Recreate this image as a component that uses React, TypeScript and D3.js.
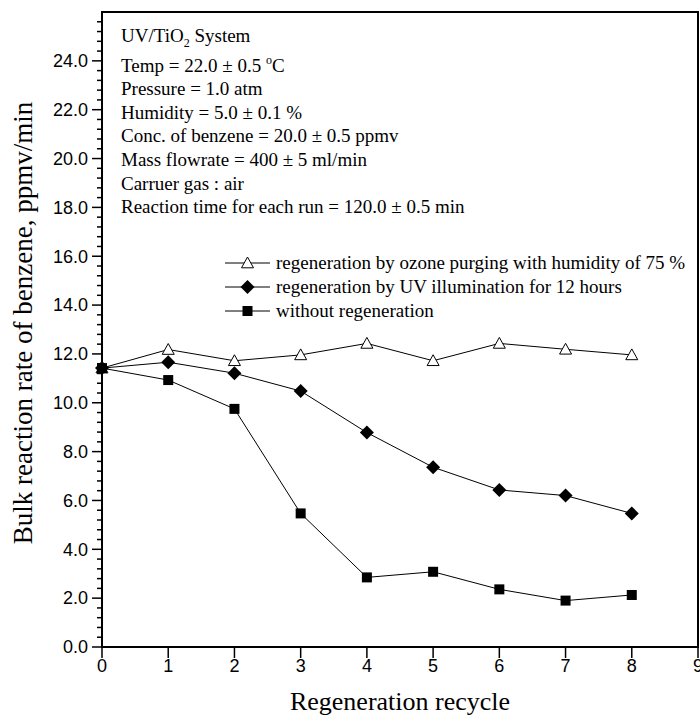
import React from "react";
import * as d3 from "d3";

const cycles = [0, 1, 2, 3, 4, 5, 6, 7, 8];
const ozoneSeries = [11.42, 12.18, 11.72, 11.96, 12.43, 11.72, 12.43, 12.19, 11.96];
const uvSeries = [11.42, 11.66, 11.21, 10.48, 8.78, 7.36, 6.43, 6.2, 5.47];
const noRegenSeries = [11.42, 10.93, 9.75, 5.47, 2.85, 3.08, 2.36, 1.9, 2.13];

const xTicks = [0, 1, 2, 3, 4, 5, 6, 7, 8, 9];
const yMajorTicks = [0, 2, 4, 6, 8, 10, 12, 14, 16, 18, 20, 22, 24];

const legendLabels = [
  "regeneration by ozone purging with humidity of 75 %",
  "regeneration by UV illumination for 12 hours",
  "without regeneration",
];

const annoLines = [
  "Pressure = 1.0 atm",
  "Humidity = 5.0 \u00b1 0.1 %",
  "Conc. of benzene = 20.0 \u00b1 0.5 ppmv",
  "Mass flowrate = 400 \u00b1 5 ml/min",
  "Carruer gas : air",
  "Reaction time for each run = 120.0 \u00b1 0.5 min",
];

const W = 700;
const H = 717;
const left = 102;
const right = 698;
const top = 12;
const bottom = 647;

const serif = "'Liberation Serif', 'Times New Roman', serif";
const sans = "'Liberation Sans', Arial, sans-serif";

function Marker({ kind, x, y }: { kind: string; x: number; y: number }) {
  if (kind === "tri") {
    return (
      <path
        d={`M${x},${y - 6}L${x + 6},${y + 4.8}L${x - 6},${y + 4.8}Z`}
        fill="white"
        stroke="black"
        strokeWidth={1}
      />
    );
  }
  if (kind === "dia") {
    return (
      <path
        d={`M${x},${y - 7}L${x + 7},${y}L${x},${y + 7}L${x - 7},${y}Z`}
        fill="black"
      />
    );
  }
  return <rect x={x - 5} y={y - 5} width={10} height={10} fill="black" />;
}

export default function App() {
  const xs = d3.scaleLinear().domain([0, 9]).range([left, right]);
  const ys = d3.scaleLinear().domain([0, 26]).range([bottom, top]);
  const line = d3
    .line<number>()
    .x((_, i) => xs(cycles[i]))
    .y((d) => ys(d));

  const minor = d3
    .range(0, 66)
    .filter((i) => i % 5 !== 0)
    .map((i) => i * 0.4);

  const series = [
    { kind: "tri", data: ozoneSeries },
    { kind: "dia", data: uvSeries },
    { kind: "sq", data: noRegenSeries },
  ];

  const annoX = 121;
  const annoY0 = 42;
  const tempY = 71.5;
  const annoDy = 23.6;

  const legendY = [263, 287, 311];

  return (
    <svg
      width={W}
      height={H}
      style={{ position: "absolute", left: 0, top: 0, background: "white" }}
    >
      <rect x={0} y={0} width={W} height={H} fill="white" />
      {minor.map((v) => (
        <line key={"m" + v} x1={left - 5} x2={left} y1={ys(v)} y2={ys(v)} stroke="black" strokeWidth={1.5} />
      ))}
      {yMajorTicks.map((v) => (
        <g key={"y" + v}>
          <line x1={left - 10} x2={left} y1={ys(v)} y2={ys(v)} stroke="black" strokeWidth={1.5} />
          <text x={left - 14} y={ys(v)} dy="0.35em" textAnchor="end" fontFamily={sans} fontSize={18}>
            {v.toFixed(1)}
          </text>
        </g>
      ))}
      {xTicks.map((v) => (
        <g key={"x" + v}>
          <line x1={xs(v)} x2={xs(v)} y1={bottom} y2={bottom + 11} stroke="black" strokeWidth={1.5} />
          <text x={xs(v)} y={bottom + 25} textAnchor="middle" fontFamily={sans} fontSize={18}>
            {v}
          </text>
        </g>
      ))}
      <rect x={left} y={top} width={right - left} height={bottom - top} fill="none" stroke="black" strokeWidth={2} />

      {series.map((s) => (
        <path key={"l" + s.kind} d={line(s.data) || ""} fill="none" stroke="black" strokeWidth={1} />
      ))}
      {series.map((s) =>
        s.data.map((v, i) => <Marker key={s.kind + i} kind={s.kind} x={xs(cycles[i])} y={ys(v)} />)
      )}

      <g fontFamily={serif} fontSize={19}>
        <text x={annoX} y={annoY0}>
          UV/TiO
          <tspan fontSize={12} dy={5}>2</tspan>
          <tspan dy={-5}> System</tspan>
        </text>
        <text x={annoX} y={tempY}>
          Temp = 22.0 {"\u00b1"} 0.5 <tspan fontSize={12} dy={-8}>o</tspan>
          <tspan dy={8}>C</tspan>
        </text>
        {annoLines.map((t, i) => (
          <text key={"a" + i} x={annoX} y={tempY + (i + 1) * annoDy}>
            {t}
          </text>
        ))}
      </g>

      {series.map((s, i) => (
        <g key={"lg" + i}>
          <line x1={225} x2={270} y1={legendY[i]} y2={legendY[i]} stroke="black" strokeWidth={1} />
          <Marker kind={s.kind} x={247.5} y={legendY[i]} />
          <text x={276} y={legendY[i]} dy="0.3em" fontFamily={serif} fontSize={19}>
            {legendLabels[i]}
          </text>
        </g>
      ))}

      <text x={(left + right) / 2} y={710} textAnchor="middle" fontFamily={serif} fontSize={26}>
        Regeneration recycle
      </text>
      <text
        transform={`translate(32, 323) rotate(-90)`}
        textAnchor="middle"
        fontFamily={serif}
        fontSize={27}
      >
        Bulk reaction rate of benzene, ppmv/min
      </text>
    </svg>
  );
}
